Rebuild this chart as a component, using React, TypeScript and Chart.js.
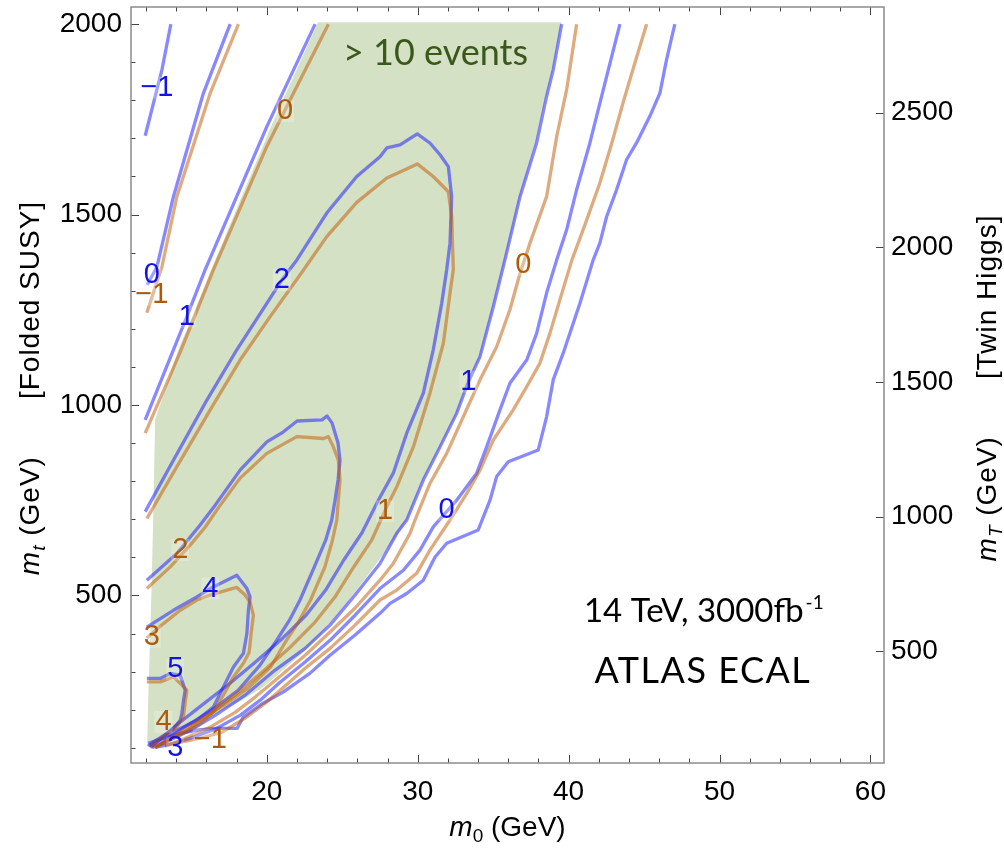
import React, { useEffect, useRef } from 'react';
import { Chart, registerables } from 'chart.js';

Chart.register(...registerables);

type Pt = [number, number];

// Frame ranges (m0 in GeV along x, m_t in GeV along y)
const M0_MIN = 11.0;
const M0_MAX = 60.9;
const MT_MIN = 60;
const MT_MAX = 2045;

const M0_TICKS = [20, 30, 40, 50, 60];
const MT_TICKS = [500, 1000, 1500, 2000];
const TWIN_TICKS = [500, 1000, 1500, 2000, 2500];
const M0_MAJOR_STEP = 10;
const M0_MINOR_STEP = 2;
const MT_MAJOR_STEP = 500;
const MT_MINOR_STEP = 100;
const TWIN_FACTOR = Math.SQRT2; // m_T = sqrt(2) m_t

// Region with more than 10 signal events
const EVENTS_REGION: Pt[] = [
  [23.40, 2005], [39.54, 2005], [38.96, 1880], [38.50, 1809], [37.83, 1689], [36.78, 1546],
  [35.78, 1381], [35.00, 1257], [34.13, 1126], [33.33, 1060], [32.60, 979], [31.48, 890],
  [30.35, 803], [29.29, 698], [28.17, 632], [26.84, 561], [25.19, 474], [23.53, 396],
  [22.21, 343], [19.75, 259], [18.23, 222], [15.38, 164], [13.13, 133], [12.07, 102],
  [12.14, 225], [12.34, 488], [12.47, 698], [12.60, 961], [14.13, 1145], [15.05, 1231],
  [16.31, 1355], [20.28, 1731], [23.40, 2005],
];

// Folded SUSY contours (blue)
const BLUE_M1_LEFT: Pt[] = [[13.64, 2000], [13.05, 1880], [11.94, 1707]];
const BLUE_M1_RIGHT: Pt[] = [
  [47.04, 2000], [46.49, 1907], [46.05, 1819], [45.38, 1758], [44.50, 1688], [43.84, 1644],
  [43.18, 1565], [42.52, 1495], [42.07, 1425], [41.63, 1381], [40.75, 1267], [39.64, 1136],
  [38.98, 1066], [38.54, 969], [37.99, 882], [36.00, 851], [35.23, 812], [34.79, 750],
  [34.01, 672], [31.92, 637], [31.15, 601], [30.37, 540], [29.27, 505], [28.17, 479],
  [27.50, 453], [25.85, 396], [24.19, 343], [22.87, 296], [21.08, 246], [19.75, 217],
  [18.43, 180], [18.03, 151], [16.44, 151], [15.38, 146], [14.26, 138], [13.13, 125], [12.14, 112],
];
const BLUE_0_LEFT: Pt[] = [[17.57, 2000], [15.80, 1819], [13.81, 1547], [12.72, 1363], [12.07, 1315]];
const BLUE_0_RIGHT: Pt[] = [
  [43.40, 2000], [42.52, 1863], [41.41, 1688], [40.53, 1565], [39.87, 1460], [39.21, 1381],
  [38.54, 1294], [37.88, 1188], [37.22, 1118], [36.11, 1057], [35.45, 987], [34.57, 890],
  [33.91, 821], [32.58, 750], [31.03, 680], [30.15, 619], [29.05, 566], [27.50, 518],
  [25.85, 448], [24.19, 382], [22.54, 325], [20.88, 272], [19.56, 225], [18.23, 185],
  [16.58, 149], [14.92, 125], [13.60, 109], [12.60, 101],
];
const BLUE_1_LEFT: Pt[] = [[23.20, 2000], [20.00, 1731], [15.91, 1355], [14.70, 1232], [13.81, 1145], [11.94, 961]];
const BLUE_1_RIGHT: Pt[] = [
  [39.54, 2000], [38.98, 1880], [38.54, 1810], [37.88, 1688], [36.78, 1547], [35.78, 1381],
  [35.01, 1258], [34.13, 1127], [33.36, 1061], [32.58, 978], [31.48, 890], [30.37, 803],
  [29.27, 698], [28.61, 663], [27.50, 584], [25.85, 501], [24.19, 422], [22.54, 361],
  [20.55, 304], [18.56, 238], [16.58, 185], [14.92, 146], [13.26, 114], [12.40, 101],
];
const BLUE_2: Pt[] = [
  [11.94, 720], [13.81, 855], [16.03, 1013], [18.01, 1145], [20.00, 1267], [20.99, 1328],
  [21.99, 1381], [23.97, 1504], [25.96, 1600], [27.50, 1652], [27.95, 1675], [28.83, 1683],
  [29.97, 1712], [30.81, 1688], [31.48, 1657], [32.03, 1626], [32.25, 1547], [32.14, 1425],
  [31.92, 1355], [31.59, 1267], [31.03, 1145], [30.37, 1031], [29.27, 926], [28.38, 821],
  [27.39, 750], [26.30, 664], [25.10, 593], [23.90, 514], [22.60, 448], [20.90, 382],
  [19.15, 322], [17.40, 264], [15.70, 212], [14.00, 159], [12.85, 120], [12.27, 101],
];
const BLUE_3: Pt[] = [
  [12.05, 540], [14.04, 610], [15.58, 685], [16.58, 737], [18.23, 829], [20.00, 903],
  [21.08, 929], [22.01, 958], [23.66, 961], [23.99, 971], [24.32, 953], [24.72, 900],
  [24.85, 855], [24.72, 803], [24.52, 750], [24.30, 698], [23.90, 645], [23.15, 575],
  [22.20, 488], [21.50, 435], [20.65, 382], [19.55, 317], [18.10, 251], [16.35, 199],
  [14.55, 154], [13.60, 128], [12.93, 109],
];
const BLUE_4: Pt[] = [
  [12.05, 417], [13.81, 461], [15.36, 496], [16.25, 518], [17.35, 540], [18.01, 553],
  [18.68, 518], [18.89, 496], [18.78, 461], [18.68, 400], [18.45, 348], [17.79, 312],
  [17.13, 260], [16.46, 207], [15.36, 172], [14.04, 146], [12.93, 120], [12.27, 104],
];
const BLUE_5: Pt[] = [
  [12.05, 282], [12.93, 282], [13.60, 295], [14.26, 291], [14.59, 251], [14.48, 225],
  [14.37, 190], [14.26, 172], [13.81, 150], [13.38, 137], [12.67, 120], [12.14, 104],
];

// Twin Higgs contours (orange)
const ORANGE_M1_LEFT: Pt[] = [[18.12, 2000], [16.25, 1819], [14.04, 1547], [13.05, 1363], [12.05, 1242]];
const ORANGE_M1_RIGHT: Pt[] = [
  [45.17, 2000], [44.46, 1907], [43.66, 1801], [42.87, 1689], [42.07, 1583], [41.08, 1473],
  [40.22, 1381], [39.42, 1276], [38.76, 1188], [38.10, 1110], [37.22, 1048], [36.33, 987],
  [35.01, 908], [34.13, 829], [33.25, 768], [32.14, 698], [30.81, 619], [29.93, 558],
  [28.61, 514], [27.50, 488], [25.85, 422], [24.19, 361], [22.54, 309], [21.21, 262],
  [19.89, 217], [18.56, 178], [17.04, 141], [15.58, 125], [14.26, 114], [13.26, 107],
];
const ORANGE_0_LEFT: Pt[] = [[24.08, 2000], [21.99, 1836], [20.00, 1679], [16.46, 1355], [14.26, 1139], [11.94, 926]];
const ORANGE_0_RIGHT: Pt[] = [
  [40.53, 2000], [39.87, 1828], [39.21, 1705], [38.54, 1547], [37.44, 1425], [36.78, 1346],
  [36.11, 1250], [35.23, 1153], [34.13, 1066], [33.02, 969], [31.92, 873], [30.81, 794],
  [29.82, 698], [29.49, 663], [28.38, 584], [27.50, 540], [25.85, 467], [24.19, 404],
  [22.54, 343], [20.88, 288], [19.23, 233], [17.90, 193], [16.25, 154], [14.59, 125], [13.26, 104],
];
const ORANGE_1: Pt[] = [
  [12.05, 702], [14.04, 838], [16.25, 987], [18.23, 1118], [20.22, 1232], [22.21, 1342],
  [23.97, 1442], [25.96, 1532], [27.95, 1596], [28.83, 1612], [29.97, 1633], [31.03, 1600],
  [32.03, 1560], [32.25, 1495], [32.36, 1355], [32.14, 1294], [31.70, 1162], [30.81, 1031],
  [29.71, 890], [28.61, 785], [27.95, 733], [26.95, 645], [25.75, 574], [24.50, 495],
  [23.20, 430], [21.55, 364], [19.85, 304], [18.10, 246], [16.40, 193], [14.70, 146],
  [13.30, 114], [12.60, 101],
];
const ORANGE_2: Pt[] = [
  [12.05, 518], [13.60, 575], [14.92, 632], [15.91, 679], [16.91, 737], [18.23, 808],
  [20.00, 873], [21.99, 917], [23.75, 912], [24.08, 917], [24.41, 890], [24.74, 855],
  [24.85, 803], [24.74, 750], [24.64, 698], [24.35, 645], [23.85, 575], [22.90, 488],
  [22.10, 430], [21.30, 382], [20.25, 312], [18.75, 256], [17.15, 212], [15.55, 172],
  [14.26, 141], [13.26, 117], [12.60, 101],
];
const ORANGE_3: Pt[] = [
  [12.05, 388], [13.15, 426], [14.26, 461], [15.36, 488], [16.25, 501], [17.35, 514],
  [18.01, 521], [18.56, 501], [18.89, 482], [19.11, 448], [18.96, 400], [18.83, 351],
  [18.45, 322], [17.79, 286], [17.11, 238], [16.44, 193], [15.58, 162], [14.26, 135],
  [13.13, 114], [12.40, 101],
];
const ORANGE_4: Pt[] = [
  [12.05, 273], [12.93, 273], [13.81, 286], [14.26, 269], [14.70, 251], [14.59, 217],
  [14.48, 181], [14.04, 155], [13.46, 138], [12.80, 120], [12.27, 104],
];

const BLUE_LINES: Pt[][] = [BLUE_M1_LEFT, BLUE_M1_RIGHT, BLUE_0_LEFT, BLUE_0_RIGHT, BLUE_1_LEFT, BLUE_1_RIGHT, BLUE_2, BLUE_3, BLUE_4, BLUE_5];
const ORANGE_LINES: Pt[][] = [ORANGE_M1_LEFT, ORANGE_M1_RIGHT, ORANGE_0_LEFT, ORANGE_0_RIGHT, ORANGE_1, ORANGE_2, ORANGE_3, ORANGE_4];

// Contour level labels: [text, m0, m_t]
const BLUE_LABELS: [string, number, number][] = [
  ['\u22121', 12.72, 1833], ['0', 12.38, 1342], ['1', 14.70, 1232], ['2', 20.99, 1328],
  ['1', 33.36, 1061], ['0', 31.92, 725], ['4', 16.25, 518], ['5', 13.93, 306], ['3', 13.93, 99],
];
const ORANGE_LABELS: [string, number, number][] = [
  ['0', 21.21, 1771], ['\u22121', 12.38, 1289], ['0', 36.99, 1368], ['1', 27.83, 721],
  ['2', 14.26, 619], ['3', 12.38, 391], ['4', 13.15, 168], ['\u22121', 16.25, 120],
];

const SANS = "'Liberation Sans', Arial, Helvetica, sans-serif";
const HUMANIST = "Lato, 'Open Sans', sans-serif";
const BLUE_LINE = 'rgba(20, 20, 255, 0.5)';
const ORANGE_LINE = 'rgba(190, 88, 0, 0.5)';
const BLUE_TEXT = 'rgb(18, 18, 228)';
const ORANGE_TEXT = 'rgb(172, 92, 8)';
const LABEL_BACKDROP = 'rgba(255, 255, 255, 0.22)';
const GREEN_FILL = 'rgb(212, 225, 196)';
const GREEN_TEXT = 'rgb(58, 88, 28)';
const FRAME_COLOR = '#8c8c8c';
const TICK_COLOR = '#444';

type Run = { text: string; font: string; dy?: number };

function runsWidth(ctx: CanvasRenderingContext2D, runs: Run[]) {
  let w = 0;
  for (const r of runs) {
    ctx.font = r.font;
    w += ctx.measureText(r.text).width;
  }
  return w;
}

function drawRuns(ctx: CanvasRenderingContext2D, runs: Run[], x: number, y: number) {
  let cx = x;
  for (const r of runs) {
    ctx.font = r.font;
    ctx.fillText(r.text, cx, y + (r.dy || 0));
    cx += ctx.measureText(r.text).width;
  }
}

// Axis title: italic symbol with subscript, unit, gap, then bracketed model name
function axisTitle(sym: string, sub: string, model: string): { a: Run[]; b: Run[] } {
  return {
    a: [
      { text: sym, font: `italic 28px ${SANS}` },
      { text: sub, font: `italic 19px ${SANS}`, dy: 6 },
      { text: ' (GeV)', font: `28px ${SANS}` },
    ],
    b: [{ text: model, font: `28px ${SANS}` }],
  };
}

function drawLevelLabels(ctx: CanvasRenderingContext2D, xs: any, ys: any, labels: [string, number, number][], color: string) {
  for (const [t, m0, mt] of labels) {
    const x = xs.getPixelForValue(m0);
    const y = ys.getPixelForValue(mt);
    const w = ctx.measureText(t).width;
    ctx.fillStyle = LABEL_BACKDROP;
    ctx.fillRect(x - w / 2 - 1, y - 11, w + 2, 22);
    ctx.fillStyle = color;
    ctx.fillText(t, x, y);
  }
}

const decorPlugin = {
  id: 'decor',
  afterDatasetsDraw(chart: any) {
    const { ctx } = chart;
    const xs = chart.scales.x;
    const ys = chart.scales.y;
    ctx.save();
    ctx.textAlign = 'center';
    ctx.textBaseline = 'middle';
    ctx.font = `29px ${SANS}`;
    drawLevelLabels(ctx, xs, ys, BLUE_LABELS, BLUE_TEXT);
    drawLevelLabels(ctx, xs, ys, ORANGE_LABELS, ORANGE_TEXT);

    // annotations
    ctx.textBaseline = 'alphabetic';
    ctx.textAlign = 'left';
    ctx.fillStyle = GREEN_TEXT;
    ctx.font = `36px ${HUMANIST}`;
    ctx.fillText('> 10 events', xs.getPixelForValue(25.05), ys.getPixelForValue(1893));

    ctx.fillStyle = '#000';
    const main = '14 TeV, 3000fb';
    ctx.font = `33px ${HUMANIST}`;
    const wMain = ctx.measureText(main).width;
    ctx.font = `19px ${HUMANIST}`;
    const wSup = ctx.measureText('-1').width;
    const cx = xs.getPixelForValue(48.96);
    const by = ys.getPixelForValue(431);
    const x0 = cx - (wMain + wSup + 2) / 2;
    ctx.font = `33px ${HUMANIST}`;
    ctx.fillText(main, x0, by);
    ctx.font = `19px ${HUMANIST}`;
    ctx.fillText('-1', x0 + wMain + 2, by - 13);

    ctx.textAlign = 'center';
    ctx.font = `36px ${HUMANIST}`;
    (ctx as any).letterSpacing = '1.5px';
    ctx.fillText('ATLAS ECAL', xs.getPixelForValue(48.9), ys.getPixelForValue(269));
    (ctx as any).letterSpacing = '0px';
    ctx.restore();
  },
  afterDraw(chart: any) {
    const { ctx, chartArea } = chart;
    const { left, right, top, bottom } = chartArea;
    const xs = chart.scales.x;
    const ys = chart.scales.y;
    const ts = chart.scales.y2;
    ctx.save();
    // tick marks, pointing into the frame
    ctx.strokeStyle = TICK_COLOR;
    ctx.lineWidth = 1;
    ctx.beginPath();
    for (let v = Math.ceil(M0_MIN / M0_MINOR_STEP) * M0_MINOR_STEP; v <= M0_MAX; v += M0_MINOR_STEP) {
      const len = v % M0_MAJOR_STEP === 0 ? 8 : 4.5;
      const px = Math.round(xs.getPixelForValue(v)) + 0.5;
      ctx.moveTo(px, bottom);
      ctx.lineTo(px, bottom - len);
      ctx.moveTo(px, top);
      ctx.lineTo(px, top + len);
    }
    for (let v = Math.ceil(MT_MIN / MT_MINOR_STEP) * MT_MINOR_STEP; v <= MT_MAX; v += MT_MINOR_STEP) {
      const len = v % MT_MAJOR_STEP === 0 ? 8 : 4.5;
      const py = Math.round(ys.getPixelForValue(v)) + 0.5;
      ctx.moveTo(left, py);
      ctx.lineTo(left + len, py);
    }
    for (const v of TWIN_TICKS) {
      const py = Math.round(ts.getPixelForValue(v)) + 0.5;
      ctx.moveTo(right, py);
      ctx.lineTo(right - 8, py);
    }
    ctx.stroke();
    ctx.strokeStyle = FRAME_COLOR;
    ctx.lineWidth = 1.5;
    ctx.strokeRect(left, top, right - left, bottom - top);

    // axis titles
    ctx.fillStyle = '#000';
    ctx.textAlign = 'left';
    ctx.textBaseline = 'alphabetic';
    const gap = 57;
    const midY = (top + bottom) / 2 + 3;

    const drawVertical = (x: number, t: { a: Run[]; b: Run[] }) => {
      (ctx as any).letterSpacing = '1px';
      const wa = runsWidth(ctx, t.a);
      const wb = runsWidth(ctx, t.b);
      const total = wa + gap + wb;
      ctx.save();
      ctx.translate(x, midY);
      ctx.rotate(-Math.PI / 2);
      drawRuns(ctx, t.a, -total / 2, 0);
      drawRuns(ctx, t.b, -total / 2 + wa + gap, 0);
      ctx.restore();
      (ctx as any).letterSpacing = '0px';
    };
    drawVertical(39, axisTitle('m', 't', '[Folded SUSY]'));
    drawVertical(996, axisTitle('m', 'T', '[Twin Higgs]'));

    const bottomRuns: Run[] = [
      { text: 'm', font: `italic 28px ${SANS}` },
      { text: '0', font: `19px ${SANS}`, dy: 6 },
      { text: ' (GeV)', font: `28px ${SANS}` },
    ];
    const wb = runsWidth(ctx, bottomRuns);
    drawRuns(ctx, bottomRuns, (left + right) / 2 - wb / 2, 836);
    ctx.restore();
  },
};

function lineDataset(pts: Pt[], color: string) {
  return {
    data: pts.map(([x, y]) => ({ x, y })),
    showLine: true,
    borderColor: color,
    borderWidth: 3.3,
    pointRadius: 0,
    pointHoverRadius: 0,
    fill: false,
    tension: 0,
    order: 1,
  };
}

const fixedTicks = (values: number[]) => (s: any) => {
  s.ticks = values.map((value) => ({ value }));
};

export default function App() {
  const canvasRef = useRef<HTMLCanvasElement | null>(null);

  useEffect(() => {
    const canvas = canvasRef.current;
    if (!canvas) return;

    const zeroPad = (s: any) => {
      s.paddingTop = 0;
      s.paddingBottom = 0;
      s.paddingLeft = 0;
      s.paddingRight = 0;
    };

    const datasets: any[] = [
      ...ORANGE_LINES.map((p) => lineDataset(p, ORANGE_LINE)),
      ...BLUE_LINES.map((p) => lineDataset(p, BLUE_LINE)),
      {
        data: EVENTS_REGION.map(([x, y]) => ({ x, y })),
        showLine: true,
        borderColor: 'rgba(0,0,0,0)',
        borderWidth: 0,
        backgroundColor: GREEN_FILL,
        fill: 'shape',
        pointRadius: 0,
        tension: 0,
        order: 5,
      },
    ];

    const tickFont = { family: SANS, size: 28 };
    const label = (v: any) => String(v);

    const chart = new Chart(canvas, {
      type: 'scatter',
      data: { datasets },
      options: {
        responsive: false,
        maintainAspectRatio: false,
        animation: false,
        events: [],
        layout: { padding: { left: 0, right: 0, top: 7, bottom: 0 } },
        elements: { line: { borderJoinStyle: 'round', borderCapStyle: 'butt' } },
        plugins: { legend: { display: false }, tooltip: { enabled: false } },
        scales: {
          x: {
            type: 'linear',
            position: 'bottom',
            min: M0_MIN,
            max: M0_MAX,
            grid: { display: false, drawTicks: false },
            border: { display: false },
            afterBuildTicks: fixedTicks(M0_TICKS),
            ticks: { autoSkip: false, maxRotation: 0, padding: 12, color: '#000', font: tickFont, callback: label },
            afterFit: (s: any) => {
              s.height = 87;
              zeroPad(s);
            },
          },
          y: {
            type: 'linear',
            position: 'left',
            min: MT_MIN,
            max: MT_MAX,
            grid: { display: false, drawTicks: false },
            border: { display: false },
            afterBuildTicks: fixedTicks(MT_TICKS),
            ticks: { autoSkip: false, padding: 9, color: '#000', font: tickFont, callback: label },
            afterFit: (s: any) => {
              s.width = 131;
              zeroPad(s);
            },
          },
          y2: {
            type: 'linear',
            position: 'right',
            min: MT_MIN * TWIN_FACTOR,
            max: MT_MAX * TWIN_FACTOR,
            grid: { display: false, drawTicks: false },
            border: { display: false },
            afterBuildTicks: fixedTicks(TWIN_TICKS),
            ticks: { autoSkip: false, padding: 7, color: '#000', font: tickFont, callback: label },
            afterFit: (s: any) => {
              s.width = 120;
              zeroPad(s);
            },
          },
        },
      } as any,
      plugins: [decorPlugin],
    });

    return () => chart.destroy();
  }, []);

  return (
    <div style={{ position: 'absolute', left: 0, top: 0, width: 1004, height: 850, background: '#fff' }}>
      <canvas ref={canvasRef} width={1004} height={850} style={{ display: 'block', width: 1004, height: 850 }} />
    </div>
  );
}
